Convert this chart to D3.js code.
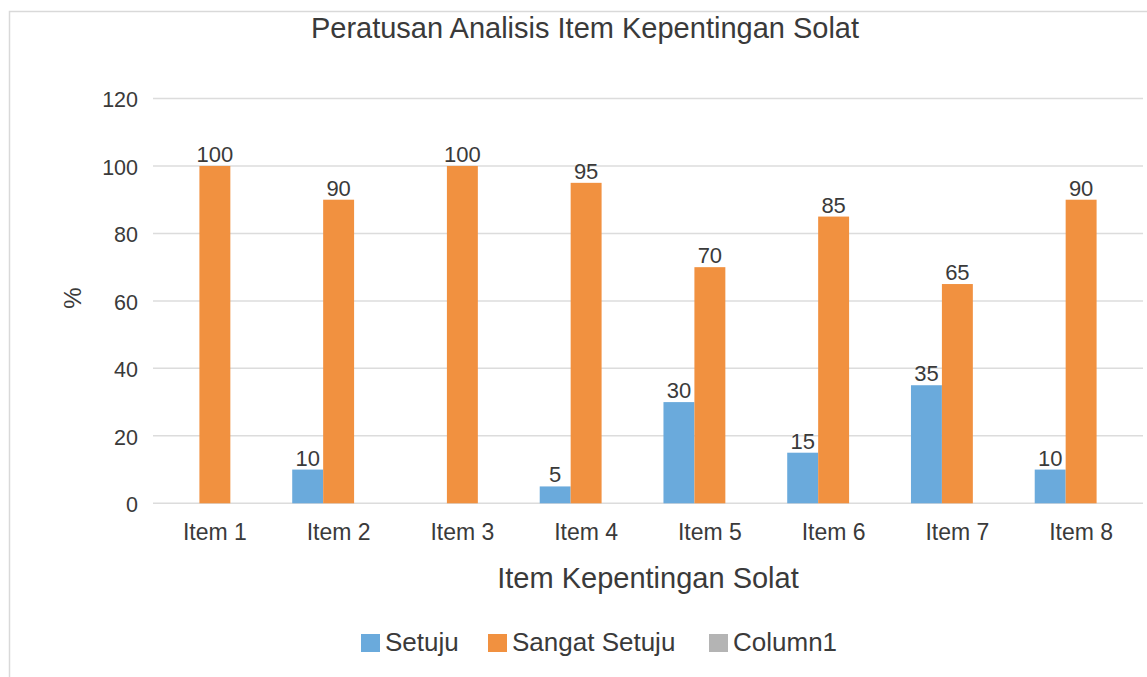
<!DOCTYPE html>
<html>
<head>
<meta charset="utf-8">
<script src="https://cdn.jsdelivr.net/npm/d3@7"></script>
<style>
  html, body { margin: 0; padding: 0; background: #fff; }
  svg { display: block; font-family: "Liberation Sans", Arial, sans-serif; }
</style>
</head>
<body>
<svg id="chart" width="1147" height="677"></svg>
<script>
const categories = ["Item 1", "Item 2", "Item 3", "Item 4", "Item 5", "Item 6", "Item 7", "Item 8"];
const seriesNames = ["Setuju", "Sangat Setuju", "Column1"];
const setuju = [null, 10, null, 5, 30, 15, 35, 10];
const sangatSetuju = [100, 90, 100, 95, 70, 85, 65, 90];
const column1 = [null, null, null, null, null, null, null, null];
const yTicks = [0, 20, 40, 60, 80, 100, 120];
const colors = ["#6aaadc", "#f19140", "#b4b4b4"];
const titleText = "Peratusan Analisis Item Kepentingan Solat";
const xTitle = "Item Kepentingan Solat";
const yTitle = "%";

const seriesValues = [setuju, sangatSetuju, column1];
const svg = d3.select("#chart");
const textColor = "#3a3a3a";
const ff = "Liberation Sans, Arial, sans-serif";

// outer border
svg.append("rect").attr("x", 9.5).attr("y", 11.5).attr("width", 1160).attr("height", 700)
  .attr("fill", "#fff").attr("stroke", "#d9d9d9").attr("stroke-width", 1.5);

const x0 = d3.scaleBand().domain(categories).range([153, 1143]).paddingInner(0.25).paddingOuter(0.125);
const x1 = d3.scaleBand().domain(seriesNames).range([0, x0.bandwidth()]);
const y = d3.scaleLinear().domain([0, 120]).range([503.3, 98.5]);

// gridlines
svg.append("g").selectAll("line").data(yTicks).join("line")
  .attr("x1", 153).attr("x2", 1143)
  .attr("y1", d => y(d)).attr("y2", d => y(d))
  .attr("stroke", "#dcdcdc").attr("stroke-width", 1.5);

// y axis labels
const yAxis = d3.axisLeft(y).tickValues(yTicks).tickSize(0).tickPadding(0);
const yg = svg.append("g").attr("transform", "translate(138,0)").call(yAxis);
yg.select(".domain").remove();
yg.selectAll("text").attr("font-size", 21.5).attr("fill", textColor)
  .attr("font-family", ff).attr("dy", "0.38em");

// x axis labels
const xAxis = d3.axisBottom(x0).tickSize(0).tickPadding(0);
const xg = svg.append("g").attr("transform", "translate(0,523)").call(xAxis);
xg.select(".domain").remove();
xg.selectAll("text").attr("font-size", 23).attr("fill", textColor)
  .attr("font-family", ff).attr("dy", "0.75em");

// bars
const groups = svg.append("g").selectAll("g").data(seriesNames).join("g")
  .attr("fill", (d, i) => colors[i]);
groups.each(function (name, si) {
  const vals = seriesValues[si];
  const data = categories.map((c, i) => ({ c, v: vals[i] })).filter(d => d.v != null);
  d3.select(this).selectAll("rect").data(data).join("rect")
    .attr("x", d => x0(d.c) + x1(name))
    .attr("width", x1.bandwidth())
    .attr("y", d => y(d.v))
    .attr("height", d => y(0) - y(d.v));
  svg.append("g").selectAll("text").data(data).join("text")
    .attr("x", d => x0(d.c) + x1(name) + x1.bandwidth() / 2)
    .attr("y", d => y(d.v) - 4)
    .attr("text-anchor", "middle")
    .attr("font-size", 22).attr("fill", textColor)
    .text(d => d.v);
});

// title
svg.append("text").attr("x", 585).attr("y", 38).attr("text-anchor", "middle")
  .attr("font-size", 29).attr("fill", textColor).text(titleText);

// x title
svg.append("text").attr("x", 648).attr("y", 588).attr("text-anchor", "middle")
  .attr("font-size", 29).attr("fill", textColor).text(xTitle);

// y title
svg.append("text").attr("transform", "translate(81,298) rotate(-90)").attr("text-anchor", "middle")
  .attr("font-size", 24).attr("fill", textColor).text(yTitle);

// legend
const legendX = [361, 488, 709];
const lg = svg.append("g").selectAll("g").data(seriesNames).join("g")
  .attr("transform", (d, i) => `translate(${legendX[i]},0)`);
lg.append("rect").attr("x", 0).attr("y", 634).attr("width", 19).attr("height", 18)
  .attr("fill", (d, i) => colors[i]);
lg.append("text").attr("x", 24).attr("y", 651).attr("font-size", 26).attr("fill", textColor)
  .text(d => d);
</script>
</body>
</html>
